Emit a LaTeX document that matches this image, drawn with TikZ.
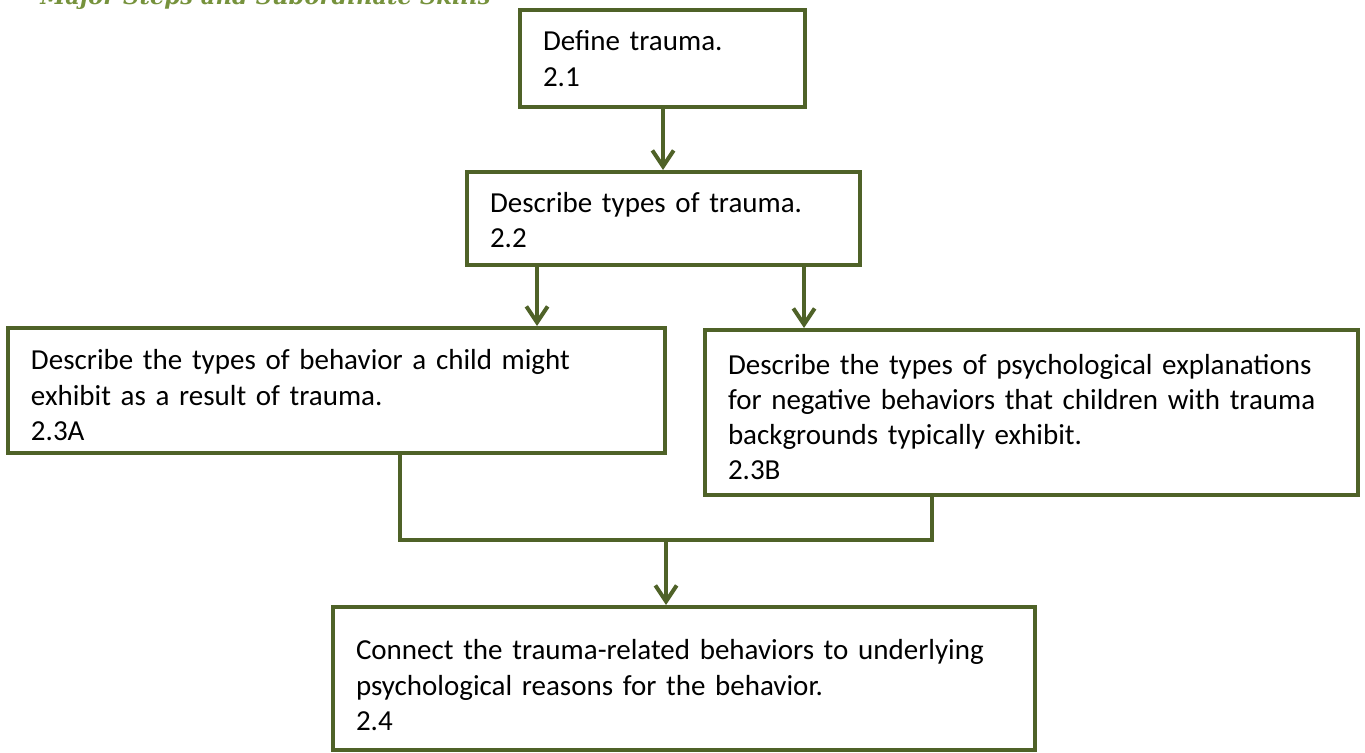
\documentclass[tikz,border=0pt]{standalone}
\usepackage{fontspec}
\setmainfont{Carlito}
\newfontfamily\titlefont{DejaVu Serif}
\usetikzlibrary{arrows.meta}
\definecolor{olivedark}{RGB}{79,98,40}
\definecolor{olivetitle}{RGB}{118,146,60}
\begin{document}
\begin{tikzpicture}[x=0.75pt,y=-0.75pt,
  stepbox/.style={draw=olivedark, line width=3pt, rectangle, fill=white,
    inner xsep=17.25pt, inner ysep=0pt, align=left,
    font=\fontsize{21.75pt}{26.4pt}\selectfont},
  firstline/.style={execute at begin node={\rule{0pt}{#1}}},
  link/.style={draw=olivedark, line width=3pt},
  arr/.style={link, -{Straight Barb[length=12pt,width=16pt,line width=3pt]}}]
\useasboundingbox (0,0) rectangle (1365,753);
\clip (0,0) rectangle (1365,753);

% heading, mostly above the top edge
\node[anchor=base west, inner sep=0pt, text=olivetitle,
  font=\titlefont\bfseries\itshape\fontsize{17pt}{20pt}\selectfont]
  (title) at (40,4) {Major Steps and Subordinate Skills};

% steps
\node[stepbox, minimum width=213.75pt, minimum height=72.75pt, text width=179.25pt]
  (s1) at (662.5,58.5) {Define trauma.\\2.1};
\node[stepbox, firstline=18pt, minimum width=294.75pt, minimum height=69.75pt, text width=260.25pt]
  (s2) at (663.5,218.5) {Describe types of trauma.\\2.2};
\node[stepbox, firstline=22pt, minimum width=492.75pt, minimum height=93.75pt, text width=458.25pt]
  (s3a) at (336.5,390.5) {Describe the types of behavior a child might\\exhibit as a result of trauma.\\2.3A};
\node[stepbox, firstline=22pt, minimum width=489.75pt, minimum height=123.75pt, text width=455.25pt]
  (s3b) at (1031.5,412.5) {Describe the types of psychological explanations\\for negative behaviors that children with trauma\\backgrounds typically exhibit.\\2.3B};
\node[stepbox, firstline=25pt, minimum width=526.5pt, minimum height=107.25pt, text width=492pt]
  (s4) at (684,678.5) {Connect the trauma-related behaviors to underlying\\psychological reasons for the behavior.\\2.4};

% connector columns
\coordinate (c1) at (663,0);
\coordinate (c2a) at (537,0);
\coordinate (c2b) at (804,0);
\coordinate (ja) at (400,540);
\coordinate (jb) at (932,540);
\coordinate (jm) at (666,540);

\draw[arr] (s1.south -| c1) -- (s2.north -| c1);
\draw[arr] (s2.south -| c2a) -- (s3a.north -| c2a);
\draw[arr] (s2.south -| c2b) -- (s3b.north -| c2b);
\draw[link] (s3a.south -| ja) -- (ja) -- (jb) -- (s3b.south -| jb);
\draw[arr] (jm) -- (s4.north -| jm);
\end{tikzpicture}
\end{document}
